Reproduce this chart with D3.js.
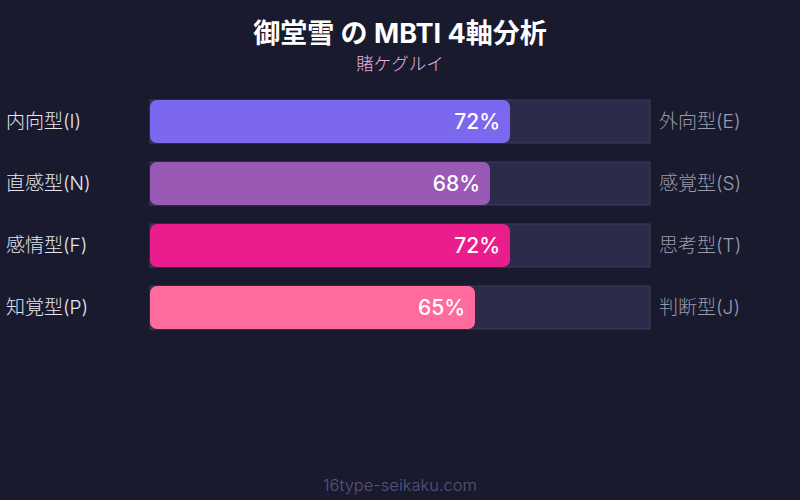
<!DOCTYPE html>
<html><head><meta charset="utf-8">
<script src="https://cdn.jsdelivr.net/npm/d3@7"></script>
<style>html,body{margin:0;padding:0;background:#1a1a2e;}</style>
</head><body>
<script>
const title = "御堂雪 の MBTI 4軸分析";
const subtitle = "賭ケグルイ";
const footer = "16type-seikaku.com";
const leftLabels = ["内向型(I)", "直感型(N)", "感情型(F)", "知覚型(P)"];
const rightLabels = ["外向型(E)", "感覚型(S)", "思考型(T)", "判断型(J)"];
const values = [72, 68, 72, 65];
const colors = ["#7b68ee", "#9b59b6", "#e91e8c", "#ff6b9d"];

const W = 800, H = 500;
const font = "Inter, 'Noto Sans CJK JP', sans-serif";
const svg = d3.select("body").append("svg").attr("width", W).attr("height", H)
  .style("font-family", font);
svg.append("rect").attr("width", W).attr("height", H).attr("fill", "#1a1a2e");

const x = d3.scaleLinear().domain([0, 100]).range([150, 650]);
const y = d3.scaleBand().domain(d3.range(values.length)).range([100, 329]).paddingInner(19 / 62).paddingOuter(0);

svg.append("text").attr("x", 400).attr("y", 43).attr("text-anchor", "middle")
  .attr("fill", "#ffffff").attr("font-size", 27).attr("font-weight", "bold").text(title);
svg.append("text").attr("x", 400).attr("y", 70).attr("text-anchor", "middle")
  .attr("fill", "#e6b3dc").attr("font-size", 17.5).attr("font-weight", 300).text(subtitle);

const rows = svg.selectAll("g.row").data(values).join("g").attr("class", "row");
rows.append("rect").attr("x", x(0)).attr("y", (d, i) => y(i)).attr("width", x(100) - x(0))
  .attr("height", y.bandwidth()).attr("fill", "#2d2b4a").attr("stroke", "#3f3d5e").attr("stroke-width", 1);
rows.append("rect").attr("x", x(0)).attr("y", (d, i) => y(i)).attr("width", d => x(d) - x(0))
  .attr("height", y.bandwidth()).attr("rx", 7).attr("fill", (d, i) => colors[i]);
rows.append("text").attr("x", d => x(d) - 10).attr("y", (d, i) => y(i) + y.bandwidth() / 2)
  .attr("dy", "0.35em").attr("text-anchor", "end").attr("fill", "#ffffff")
  .attr("font-size", 21).attr("font-weight", 500).text(d => d + "%");
rows.append("text").attr("x", 6).attr("y", (d, i) => y(i) + y.bandwidth() / 2)
  .attr("dy", "0.35em").attr("fill", "#e6e6f0").attr("font-size", 19).attr("font-weight", 300).text((d, i) => leftLabels[i]);
rows.append("text").attr("x", 659).attr("y", (d, i) => y(i) + y.bandwidth() / 2)
  .attr("dy", "0.35em").attr("fill", "#9a9aaa").attr("font-size", 19).attr("font-weight", 300).text((d, i) => rightLabels[i]);

svg.append("text").attr("x", 400).attr("y", 491).attr("text-anchor", "middle")
  .attr("fill", "#55557a").attr("font-size", 16.5).attr("font-weight", 300).text(footer);
</script>
</body></html>
